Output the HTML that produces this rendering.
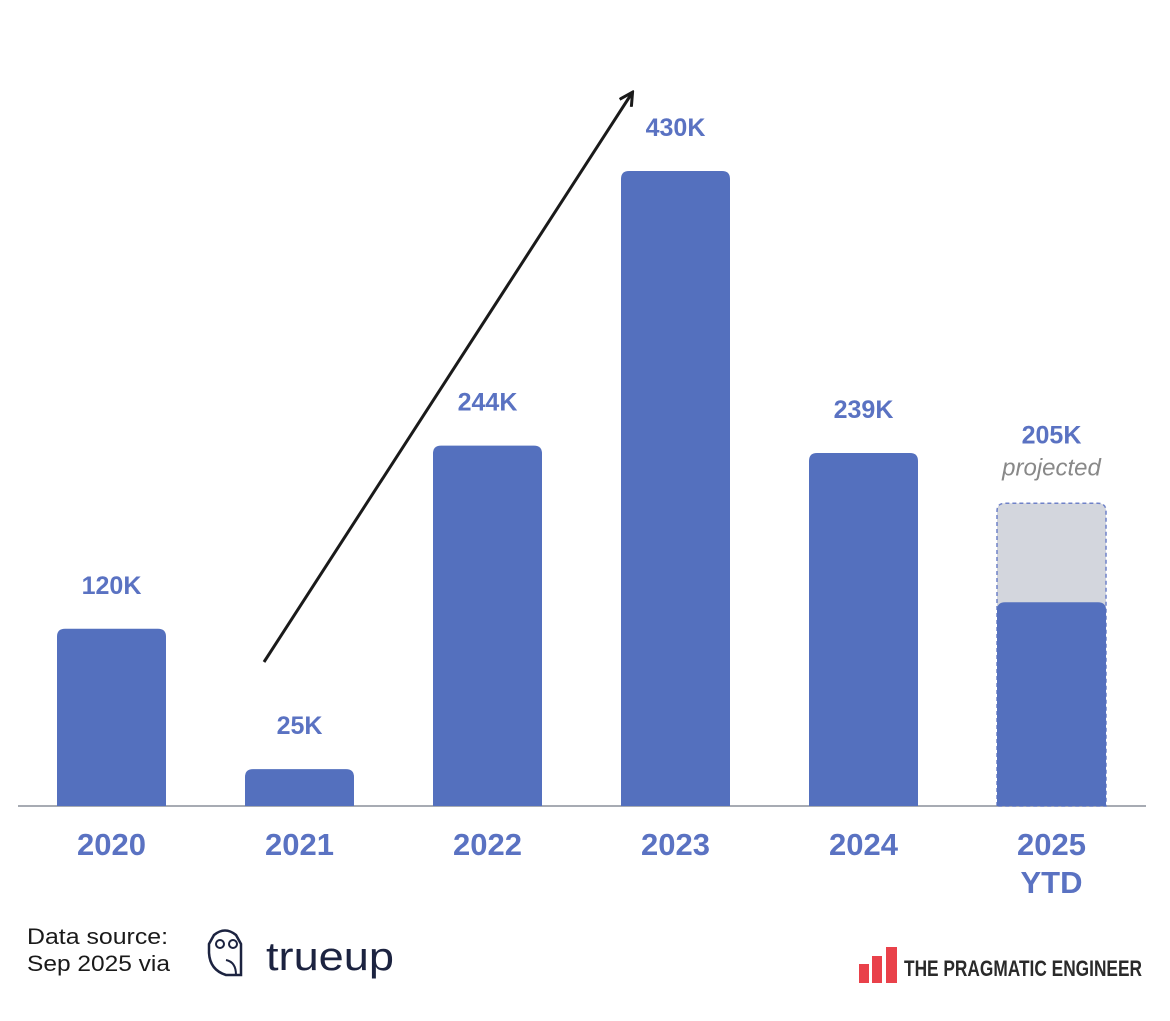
<!DOCTYPE html>
<html><head><meta charset="utf-8"><style>
body{margin:0;background:#fff;width:1170px;height:1016px;overflow:hidden;font-family:"Liberation Sans",sans-serif}
</style></head><body>
<svg id="chart" width="1170" height="1016" xmlns="http://www.w3.org/2000/svg">
<defs><marker id="ah" markerWidth="16" markerHeight="16" refX="13" refY="8" orient="auto" markerUnits="userSpaceOnUse"><path d="M1,1 L14,8 L1,15" fill="none" stroke="#1a1a1a" stroke-width="3"/></marker></defs>
<line x1="18" y1="806" x2="1146" y2="806" stroke="#8a8f9a" stroke-width="1.5"/>
<line x1="264" y1="662" x2="632" y2="93" stroke="#1a1a1a" stroke-width="3" marker-end="url(#ah)"/>
<g id="bars"></g>
<text x="27" y="944" font-size="22" fill="#1a1a1a" textLength="141" lengthAdjust="spacingAndGlyphs">Data source:</text>
<text x="27" y="971" font-size="22" fill="#1a1a1a" textLength="143" lengthAdjust="spacingAndGlyphs">Sep 2025 via</text>
<g>
<path d="M214,935 Q225,926 236,935 L241,944 L241,975 L226,975 Q210,970 209,953 L209,944 Z" fill="none" stroke="#1c2340" stroke-width="2.5"/>
<circle cx="220" cy="944" r="4" fill="none" stroke="#1c2340" stroke-width="2"/>
<circle cx="233" cy="944" r="4" fill="none" stroke="#1c2340" stroke-width="2"/>
<path d="M226,960 Q236,962 236,975" fill="none" stroke="#1c2340" stroke-width="2"/>
<text x="266" y="970" font-size="40" fill="#1c2340" textLength="128" lengthAdjust="spacingAndGlyphs">trueup</text>
</g>
<g>
<rect x="859" y="964" width="10" height="19" fill="#e9414a"/>
<rect x="872" y="956" width="10" height="27" fill="#e9414a"/>
<rect x="886" y="947" width="11" height="36" fill="#e9414a"/>
<text x="904" y="976" font-size="22" font-weight="bold" fill="#2a2a2a" textLength="238" lengthAdjust="spacingAndGlyphs">THE PRAGMATIC ENGINEER</text>
</g>
</svg>
<script>
const categories=["2020","2021","2022","2023","2024","2025"];
const values=[120,25,244,430,239,138];
const projected=[null,null,null,null,null,205];
const valueLabels=["120K","25K","244K","430K","239K","205K"];
const NS="http://www.w3.org/2000/svg";
const base=806,scale=635/430,x0=57,step=188,bw=109;
const xPos=i=>x0+i*step;
const yPos=v=>base-v*scale;
const g=document.getElementById('bars');
function mk(t,a){const e=document.createElementNS(NS,t);for(const k in a)e.setAttribute(k,a[k]);return e;}
function barPath(x,y,w,h,r){return `M${x},${y+h} L${x},${y+r} Q${x},${y} ${x+r},${y} L${x+w-r},${y} Q${x+w},${y} ${x+w},${y+r} L${x+w},${y+h} Z`;}
categories.forEach((c,i)=>{
  const x=xPos(i),cx=x+bw/2;
  let topVal=values[i];
  if(projected[i]!=null){
    const py=yPos(projected[i]);
    const pr=mk('path',{d:barPath(x,py,bw,base-py,8),fill:'#d3d6dd',stroke:'#6f82c8','stroke-width':1.5,'stroke-dasharray':'4 3'});
    
    
    g.appendChild(pr);
    topVal=projected[i];
  }
  const y=yPos(values[i]);
  const b=mk('path',{d:barPath(x,y,bw,base-y,8),fill:'#5470be'});
  
  
  g.appendChild(b);
  const ly=yPos(topVal)-35-(projected[i]!=null?25:0);
  const t=mk('text',{x:cx,y:ly,'text-anchor':'middle','font-size':25,'font-weight':'bold',fill:'#5a72c2'});
  t.textContent=valueLabels[i];
  
  
  g.appendChild(t);
  if(projected[i]!=null){
    const p=mk('text',{x:cx,y:ly+32,'text-anchor':'middle','font-size':24,'font-style':'italic',fill:'#888'});
    p.textContent='projected';
    
    
    g.appendChild(p);
  }
  const yl=mk('text',{x:cx,y:855,'text-anchor':'middle','font-size':31,'font-weight':'bold',fill:'#5a72c2'});
  yl.textContent=c;
  
  
  g.appendChild(yl);
  if(i===categories.length-1){
    const y2=mk('text',{x:cx,y:893,'text-anchor':'middle','font-size':31,'font-weight':'bold',fill:'#5a72c2'});
    y2.textContent='YTD';
    
    
    g.appendChild(y2);
  }
});
</script>
</body></html>
